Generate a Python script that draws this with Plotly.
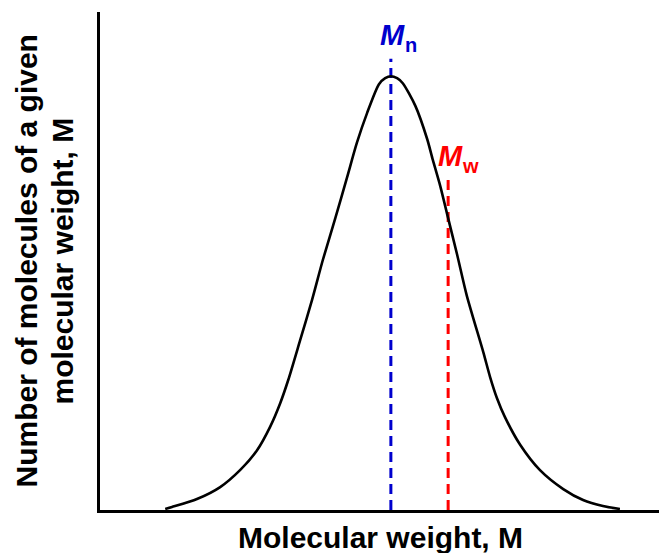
import plotly.graph_objects as go

# Molecular weight distribution curve (arbitrary units)
mol_weight = [11.5, 12.7, 17.1, 21.2, 24.7, 27.7, 30.0, 31.8, 33.2, 35.3, 37.4, 39.3,
              41.5, 43.6, 45.3, 47.1, 49.2, 50.3, 51.3, 52.4, 53.4, 55.6, 57.7, 58.7,
              60.0, 61.4, 63.0, 64.7, 67.6, 68.8, 70.0, 71.4, 74.1, 77.6, 81.7, 85.2,
              88.7, 91.7]
num_molecules = [0.002, 0.006, 0.022, 0.046, 0.080, 0.120, 0.167, 0.215, 0.261, 0.341,
                 0.422, 0.502, 0.586, 0.669, 0.737, 0.797, 0.855, 0.867, 0.871, 0.867,
                 0.857, 0.812, 0.745, 0.703, 0.651, 0.586, 0.512, 0.430, 0.317, 0.267,
                 0.225, 0.187, 0.131, 0.080, 0.042, 0.020, 0.008, 0.002]

# Averages
mn_value = 51.3
mw_value = 61.4
mn_top = 0.906
mw_top = 0.671

x_title = "Molecular weight, M"
y_title_lines = ["Number of molecules of a given", "molecular weight, M"]

FONT = "Liberation Sans, Arial, sans-serif"
BLUE = "#0000CD"
RED = "#FF0000"

fig = go.Figure()
fig.add_trace(go.Scatter(x=[mn_value, mn_value], y=[0, mn_top], mode="lines",
                         line=dict(color=BLUE, width=3, dash="10px,6px"),
                         hoverinfo="skip", showlegend=False))
fig.add_trace(go.Scatter(x=[mw_value, mw_value], y=[0, mw_top], mode="lines",
                         line=dict(color=RED, width=3, dash="10px,6px"),
                         hoverinfo="skip", showlegend=False))
fig.add_trace(go.Scatter(x=mol_weight, y=num_molecules, mode="lines",
                         line=dict(color="black", width=2.6, shape="spline", smoothing=0.7),
                         showlegend=False))

annotations = []
# M_n label
annotations.append(dict(x=mn_value, y=mn_top, xref="x", yref="y", text="<b><i>M</i></b>",
                        showarrow=False, xanchor="left", yanchor="middle",
                        xshift=-13, yshift=24,
                        font=dict(family=FONT, size=29, color=BLUE)))
annotations.append(dict(x=mn_value, y=mn_top, xref="x", yref="y", text="<b>n</b>",
                        showarrow=False, xanchor="left", yanchor="middle",
                        xshift=12, yshift=14,
                        font=dict(family=FONT, size=20, color=BLUE)))
# M_w label
annotations.append(dict(x=mw_value, y=mw_top, xref="x", yref="y", text="<b><i>M</i></b>",
                        showarrow=False, xanchor="left", yanchor="middle",
                        xshift=-12, yshift=20,
                        font=dict(family=FONT, size=29, color=RED)))
annotations.append(dict(x=mw_value, y=mw_top, xref="x", yref="y", text="<b>w</b>",
                        showarrow=False, xanchor="left", yanchor="middle",
                        xshift=12, yshift=10,
                        font=dict(family=FONT, size=20, color=RED)))
# Axis titles
annotations.append(dict(x=0.494, y=0, xref="paper", yref="paper", text="<b>" + x_title + "</b>",
                        showarrow=False, xanchor="center", yanchor="middle", yshift=-27.5,
                        font=dict(family=FONT, size=30, color="black")))
for i, line in enumerate(y_title_lines):
    annotations.append(dict(x=0, y=0.5, xref="paper", yref="paper", text="<b>" + line + "</b>",
                            showarrow=False, xanchor="center", yanchor="middle", textangle=-90,
                            xshift=-74.5 + 36 * i,
                            font=dict(family=FONT, size=30, color="black")))

# The page adds an 8px body margin, so the figure is sized 8px smaller.
fig.update_layout(
    width=659, height=545,
    margin=dict(l=92, r=0, t=4, b=43),
    paper_bgcolor="white", plot_bgcolor="white",
    annotations=annotations,
    xaxis=dict(range=[0, 100], showgrid=False, zeroline=False, showticklabels=False,
               ticks="", showline=True, linecolor="black", linewidth=3, fixedrange=True),
    yaxis=dict(range=[0, 1], showgrid=False, zeroline=False, showticklabels=False,
               ticks="", showline=True, linecolor="black", linewidth=3, fixedrange=True),
)

fig.write_html("out.html")
